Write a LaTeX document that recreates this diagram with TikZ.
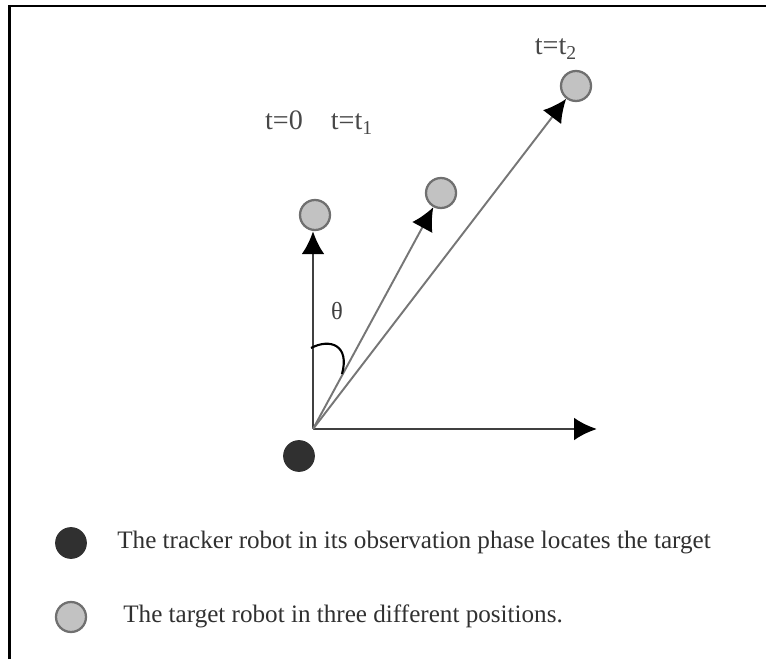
\documentclass[tikz,border=0pt]{standalone}
\usepackage{fontspec}
\setmainfont{Liberation Serif}
\usetikzlibrary{arrows.meta}

\definecolor{axisgray}{HTML}{404040}
\definecolor{raygray}{HTML}{767676}
\definecolor{ringgray}{HTML}{707070}
\definecolor{bodygray}{HTML}{C2C2C2}
\definecolor{trackgray}{HTML}{303030}
\definecolor{labelgray}{HTML}{484848}

\begin{document}
\begin{tikzpicture}[
    >={Latex[length=4.6mm, width=4.6mm, color=black]},
    target/.style={circle, draw=ringgray, line width=1.3pt, fill=bodygray, minimum size=6mm, inner sep=0pt},
    tracker/.style={circle, draw=trackgray, line width=1pt, fill=trackgray, minimum size=6mm, inner sep=0pt},
    axis/.style={->, line width=1.7pt, draw=axisgray},
    ray/.style={->, line width=1.1pt, draw=raygray},
    tlabel/.style={anchor=base, text=labelgray, font=\fontsize{16}{19}\selectfont},
    legend/.style={anchor=base west, inner sep=0pt, text=trackgray, font=\fontsize{14.3}{17}\selectfont}
]
\useasboundingbox (0,0) rectangle (15.32,13.18);

% frame
\draw[line width=1.4pt] (0.19,0) -- (0.19,13.06) -- (15.32,13.06);

% tracker and target positions
\coordinate (O) at (6.26,4.60);
\coordinate (xend) at (11.94,4.60);
\node[tracker] (robot) at (5.98,4.06) {};
\node[target] (t0) at (6.30,8.88) {};
\node[target] (t1) at (8.82,9.32) {};
\node[target] (t2) at (11.52,11.46) {};

\node[tlabel] (l0) at (5.68,10.58) {t=0};
\node[tlabel] (l1) at (7.04,10.58) {t=t\textsubscript{1}};
\node[tlabel] (l2) at (11.12,12.08) {t=t\textsubscript{2}};

% axes and bearings
\draw[axis] (O) -- (O |- t0.south);
\draw[axis] (O) -- (xend);
\draw[ray] (O) -- (t1);
\draw[ray] (O) -- (t2);

% angle
\draw[line width=1.2pt] (6.22,6.22) .. controls (6.60,6.42) and (7.00,6.28) .. (6.84,5.70);
\node[text=axisgray, font=\fontsize{14}{17}\selectfont] (theta) at (6.74,6.96) {θ};

% legend
\node[tracker] (keyrobot) at (1.42,2.32) {};
\node[legend] (keyrobottxt) at (2.34,2.22) {The tracker robot in its observation phase locates the target};
\node[target] (keytarget) at (1.42,0.84) {};
\node[legend] (keytargettxt) at (2.46,0.74) {The target robot in three different positions.};

\end{tikzpicture}
\end{document}
